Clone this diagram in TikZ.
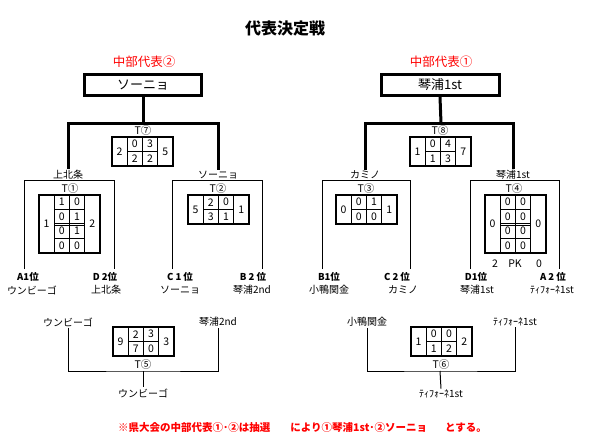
\documentclass[tikz,border=0pt]{standalone}
\usepackage{fontspec}
\setmainfont{Noto Sans CJK JP}
\usetikzlibrary{positioning}
\definecolor{REP-RED}{RGB}{255,0,0}

\tikzset{
  team/.style={font=\fontsize{10}{12}\selectfont, inner sep=1pt},
  seed/.style={font=\bfseries\fontsize{9.5}{11}\selectfont, inner sep=1pt},
  score/.style={font=\fontsize{10.5}{12}\selectfont, inner sep=0pt},
  matchno/.style={font=\fontsize{10.5}{12}\selectfont, inner sep=0pt},
  scoregrid/.style={line width=1.3pt},
  bracket/.style={line width=1pt},
  final/.style={line width=3pt},
  repbox/.style={draw, line width=3pt, minimum width=117pt, minimum height=21pt,
    inner sep=0pt, font=\fontsize{13}{15}\selectfont},
  replabel/.style={REP-RED, font=\fontsize{12.5}{15}\selectfont},
}

% score box: name, x, y, rows, left, right, cells
\newcommand{\scorebox}[7]{%
  \begin{scope}[shift={(#2,#3)}]
    \draw[scoregrid] (0,0) rectangle (61,#4*14.5);
    \draw[scoregrid] (15.25,0) -- (15.25,#4*14.5) (30.5,0) -- (30.5,#4*14.5)
      (45.75,0) -- (45.75,#4*14.5);
    \node[score] (#1-l) at (7.6,#4*7.25) {#5};
    \node[score] (#1-r) at (53.4,#4*7.25) {#6};
    \foreach \u/\v [count=\r] in {#7} {
      \ifnum\r=3 \draw[line width=0.9pt] (15.25,28.3) -- (45.75,28.3) (15.25,30.9) -- (45.75,30.9);
      \else\ifnum\r>1 \draw[scoregrid] (15.25,{(\r-1)*14.5}) -- (45.75,{(\r-1)*14.5}); \fi\fi
      \node[score] (#1-a\r) at (22.9,{(\r-0.5)*14.5}) {\u};
      \node[score] (#1-b\r) at (38.1,{(\r-0.5)*14.5}) {\v};
    }
  \end{scope}}

\begin{document}
\begin{tikzpicture}[x=1pt,y=-1pt]
  \useasboundingbox (0,0) rectangle (598,442);

  % Title
  \node[font=\bfseries\fontsize{16}{18}\selectfont] (title) at (285,28) {代表決定戦};

  % Representatives
  \node[replabel] (rep2lab) at (144,62) {中部代表②};
  \node[repbox] (rep2) at (143,85) {ソーニョ};
  \node[replabel] (rep1lab) at (441,62) {中部代表①};
  \node[repbox, minimum width=118pt] (rep1) at (440,85) {琴浦1st};

  % Round 2 winners
  \node[team] (w1) at (68,175) {上北条};
  \node[team] (w2) at (218,175) {ソーニョ};
  \node[team] (w3) at (365,175) {カミノ};
  \node[team] (w4) at (513,175) {琴浦1st};

  % T7 and T8 connectors
  \coordinate (j7) at (143,123);
  \coordinate (j8) at (441,123);
  \draw[final] (rep2.south) -- (j7);
  \draw[final] (w1.north) |- (j7) -| (w2.north);
  \draw[final] (rep1.south) -- (j8);
  \draw[final] (w3.north) |- (j8) -| (w4.north);

  \node[matchno] (t7lab) at (143,131) {T⑦};
  \scorebox{t7}{112}{137}{2}{2}{5}{0/3,2/2}
  \node[matchno] (t8lab) at (440,131) {T⑧};
  \scorebox{t8}{410}{137}{2}{1}{7}{0/4,1/3}

  % Round 1 brackets
  \coordinate (m1a) at (24,269);  \coordinate (m1b) at (114,269);
  \coordinate (m2a) at (172,269); \coordinate (m2b) at (262,269);
  \coordinate (m3a) at (322,269); \coordinate (m3b) at (410,269);
  \coordinate (m4a) at (470,269); \coordinate (m4b) at (559,269);
  \draw[bracket] (m1a) |- (w1.south) -| (m1b);
  \draw[bracket] (m2a) |- (w2.south) -| (m2b);
  \draw[bracket] (m3a) |- (w3.south) -| (m3b);
  \draw[bracket] (m4a) |- (w4.south) -| (m4b);

  \node[matchno] (t1lab) at (70,189) {T①};
  \scorebox{t1}{39}{195}{4}{1}{2}{1/0,0/1,0/1,0/0}
  \node[matchno] (t2lab) at (218,189) {T②};
  \scorebox{t2}{188}{195}{2}{5}{1}{2/0,3/1}
  \node[matchno] (t3lab) at (366,189) {T③};
  \scorebox{t3}{336}{195}{2}{0}{1}{0/1,0/0}
  \node[matchno] (t4lab) at (514,189) {T④};
  \scorebox{t4}{485}{195}{4}{0}{0}{0/0,0/0,0/0,0/0}
  \node[score] (pk1) at (495,264) {2};
  \node[score] (pk) at (515,264) {PK};
  \node[score] (pk2) at (539,264) {0};

  % Seeds
  \node[seed] (s1) at (28,277) {A1位};
  \node[team] (e1) at (32,290) {ウンビーゴ};
  \node[seed] (s2) at (105,277) {D 2位};
  \node[team] (e2) at (106,290) {上北条};
  \node[seed] (s3) at (180,277) {C 1 位};
  \node[team] (e3) at (180,290) {ソーニョ};
  \node[seed] (s4) at (253,277) {B 2 位};
  \node[team] (e4) at (252,290) {琴浦2nd};
  \node[seed] (s5) at (329,277) {B1位};
  \node[team] (e5) at (329,290) {小鴨関金};
  \node[seed] (s6) at (397,277) {C 2 位};
  \node[team] (e6) at (403,290) {カミノ};
  \node[seed] (s7) at (476,277) {D1位};
  \node[team] (e7) at (477,290) {琴浦1st};
  \node[seed] (s8) at (553,277) {A 2 位};
  \node[team] (e8) at (552,290) {ﾃｨﾌｫｰﾈ1st};

  % T5 and T6
  \node[team] (f5a) at (68,322) {ウンビーゴ};
  \node[team] (f5b) at (218,322) {琴浦2nd};
  \node[team] (w5) at (143,393) {ウンビーゴ};
  \coordinate (j5) at (143,371);
  \draw[bracket] (f5a.south) |- (j5) -| (f5b.south);
  \draw[bracket] (j5) -- (w5.north);
  \scorebox{t5}{113}{327}{2}{9}{3}{2/3,7/0}
  \node[matchno] (t5lab) at (143,365) {T⑤};

  \node[team] (f6a) at (367,322) {小鴨関金};
  \node[team] (f6b) at (515,322) {ﾃｨﾌｫｰﾈ1st};
  \node[team] (w6) at (441,394) {ﾃｨﾌｫｰﾈ1st};
  \coordinate (j6) at (440,371);
  \draw[bracket] (f6a.south) |- (j6) -| (f6b.south);
  \draw[bracket] (j6) -- (w6.north);
  \scorebox{t6}{411}{327}{2}{1}{2}{0/0,1/2}
  \node[matchno] (t6lab) at (441,365) {T⑥};

  % Note
  \node[REP-RED, anchor=west, inner sep=0pt, font=\bfseries\fontsize{10.5}{12}\selectfont]
    (note) at (118,428) {※県大会の中部代表①･②は抽選\hspace{20pt}により①琴浦1st･②ソーニョ\hspace{18pt}とする。};
\end{tikzpicture}
\end{document}
